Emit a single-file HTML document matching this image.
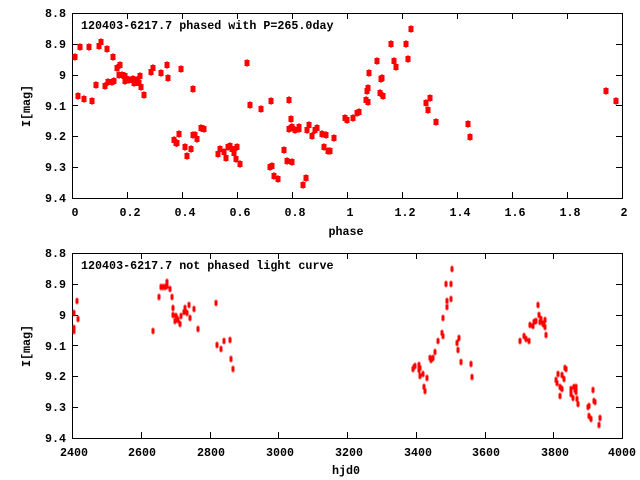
<!DOCTYPE html>
<html><head><meta charset="utf-8"><style>
html,body{margin:0;padding:0;background:#fff;width:640px;height:480px;overflow:hidden}
text{font-family:"Liberation Mono",monospace;font-size:11.7px;font-weight:bold;fill:#000}
</style></head><body>
<svg id="s" width="640" height="480" xmlns="http://www.w3.org/2000/svg">
<rect x="72.5" y="13.5" width="550" height="185" fill="none" stroke="#000"/>
<rect x="72.5" y="253.5" width="550" height="185" fill="none" stroke="#000"/>
<g id="tk" stroke="#000"></g>
<g id="pts" fill="#f00"></g>
<g text-anchor="end">
<text x="66" y="17">8.8</text><text x="66" y="48">8.9</text><text x="66" y="79">9</text>
<text x="66" y="110">9.1</text><text x="66" y="140">9.2</text><text x="66" y="171">9.3</text><text x="66" y="202">9.4</text>
<text x="66" y="257">8.8</text><text x="66" y="288">8.9</text><text x="66" y="319">9</text>
<text x="66" y="350">9.1</text><text x="66" y="380">9.2</text><text x="66" y="411">9.3</text><text x="66" y="442">9.4</text>
</g>
<g text-anchor="middle">
<text x="75" y="216">0</text><text x="130" y="216">0.2</text><text x="185" y="216">0.4</text><text x="240" y="216">0.6</text>
<text x="295" y="216">0.8</text><text x="350" y="216">1</text><text x="405" y="216">1.2</text><text x="460" y="216">1.4</text>
<text x="515" y="216">1.6</text><text x="570" y="216">1.8</text><text x="624" y="216">2</text>
<text x="346" y="235">phase</text>
<text x="74" y="456">2400</text><text x="142" y="456">2600</text><text x="211" y="456">2800</text><text x="280" y="456">3000</text>
<text x="349" y="456">3200</text><text x="418" y="456">3400</text><text x="486" y="456">3600</text><text x="555" y="456">3800</text><text x="622" y="456">4000</text>
<text x="346" y="474">hjd0</text>
<text transform="translate(30,106) rotate(-90)">I[mag]</text>
<text transform="translate(30,346) rotate(-90)">I[mag]</text>
</g>
<text x="81" y="29">120403-6217.7 phased with P=265.0day</text>
<text x="81" y="269">120403-6217.7 not phased light curve</text>
</svg>
<script>
(function(){
var tk=document.getElementById('tk'),pts=document.getElementById('pts'),ns='http://www.w3.org/2000/svg';
function L(a,b,c,d){var l=document.createElementNS(ns,'line');l.setAttribute('x1',a);l.setAttribute('y1',b);l.setAttribute('x2',c);l.setAttribute('y2',d);tk.appendChild(l);}
[[13,198,55,10],[253,438,68.75,8]].forEach(function(p){
 for(var i=0;i<=p[3];i++){var x=Math.round(72+i*p[2])+.5;L(x,p[1],x,p[1]-6);L(x,p[0],x,p[0]+6);}
 for(var j=0;j<=6;j++){var y=Math.round(p[0]+j*30.8)+.5;L(72,y,78,y);L(622,y,616,y);}
});
var tp=[[75,57],[78,96],[80,47],[84,99],[89,47],[92,101],[96,85],[99,46],[101,42],[105,86],[107,49],[108,82],[112,82],[113,57],[114,81],[117,68],[119,75],[120,65],[122,75],[125,81],[125,76],[127,79],[129,80],[133,79],[134,83],[137,80],[139,83],[140,76],[141,87],[144,95],[151,72],[153,68],[161,73],[167,65],[168,78],[174,140],[176,143],[177,143],[179,134],[181,69],[185,147],[187,156],[191,149],[193,89],[193,135],[195,135],[197,139],[201,128],[204,129],[218,154],[220,149],[224,152],[226,158],[228,147],[230,146],[232,149],[234,153],[236,159],[237,147],[240,164],[247,63],[250,105],[261,109],[270,167],[271,101],[272,166],[274,176],[278,179],[284,150],[287,161],[289,100],[289,129],[291,119],[292,162],[292,127],[295,130],[299,127],[299,129],[303,185],[306,178],[307,130],[309,125],[312,136],[315,130],[317,128],[322,134],[324,147],[326,135],[328,151],[330,151],[334,138],[345,118],[347,120],[353,118],[357,113],[359,112],[366,100],[367,91],[368,88],[368,102],[369,73],[377,61],[380,93],[381,79],[382,78],[383,96],[391,44],[394,61],[396,67],[406,44],[408,59],[411,29],[426,103],[428,110],[430,98],[436,122],[468,124],[470,137],[606,91],[616,101]];
var bt=[[74,313],[74,328],[74,331],[77,301],[78,319],[153,331],[159,297],[161,287],[163,287],[165,287],[167,282],[167,286],[170,289],[172,297],[173,308],[173,315],[175,321],[176,316],[177,318],[178,320],[180,324],[181,316],[184,312],[185,308],[187,313],[189,305],[190,318],[194,309],[198,329],[216,303],[217,345],[221,349],[224,341],[230,340],[231,359],[233,369],[413,369],[414,367],[415,366],[419,365],[419,370],[420,368],[420,376],[423,374],[424,387],[425,391],[427,378],[430,358],[431,360],[433,358],[435,352],[438,341],[442,333],[443,336],[443,318],[447,307],[447,301],[446,284],[451,284],[451,299],[452,269],[457,343],[458,350],[459,338],[461,362],[471,364],[472,377],[520,341],[524,336],[526,339],[529,341],[530,325],[533,326],[534,322],[536,321],[538,305],[539,315],[540,322],[541,319],[543,324],[544,325],[545,320],[545,327],[546,335],[556,380],[557,383],[558,374],[560,387],[560,396],[562,375],[562,389],[564,379],[565,368],[566,369],[571,389],[571,394],[573,398],[574,387],[575,390],[576,387],[576,392],[577,399],[578,404],[588,407],[589,406],[589,416],[591,419],[593,390],[594,401],[595,402],[599,425],[600,418]];
function R(x,y,w,h){var r=document.createElementNS(ns,'rect');r.setAttribute('x',x);r.setAttribute('y',y);r.setAttribute('width',w);r.setAttribute('height',h);pts.appendChild(r);}
tp.forEach(function(p){R(p[0]-2.5,p[1]-3,5,6);R(p[0]-0.5,p[1]-4,1,8);});
bt.forEach(function(p){R(p[0]-1.5,p[1]-2.5,3,5);R(p[0]-0.5,p[1]-3.5,1,7);});
})();
</script>
</body></html>
